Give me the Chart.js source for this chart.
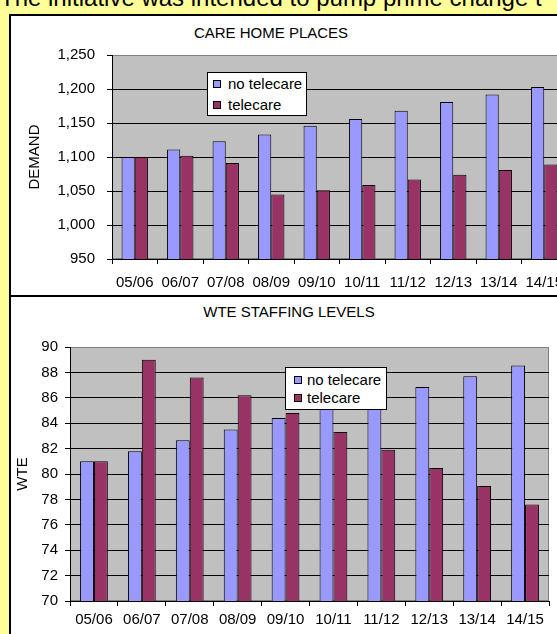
<!DOCTYPE html>
<html>
<head>
<meta charset="utf-8">
<script src="https://cdn.jsdelivr.net/npm/chart.js@4"></script>
<style>
  html, body { margin: 0; padding: 0; }
  body {
    width: 557px; height: 634px; overflow: hidden; position: relative;
    background: #FFFF99;
    font-family: 'Liberation Sans', Arial, sans-serif;
    color: #000;
  }
  .intro { position: absolute; left: 0; top: -14px; font-size: 24px; line-height: 24px; white-space: nowrap; }
  .panel { position: absolute; left: 9px; box-sizing: border-box; border: 2px solid #000; background: #fff; }
  canvas { position: absolute; }
  .title { position: absolute; font-size: 15px; line-height: 15px; white-space: nowrap; transform: translateX(-50%); }
  .legend { position: absolute; box-sizing: border-box; border: 1px solid #000; background: #fff; }
  .legend .mk { position: absolute; width: 8px; height: 8px; box-sizing: border-box; border: 1px solid #000; }
  .legend .tx { position: absolute; font-size: 15px; line-height: 15px; white-space: nowrap; }
</style>
</head>
<body>
<div class="intro">The initiative was intended to pump prime change t</div>

<div class="panel" style="top:14px; width:620px; height:283px;"></div>
<div class="panel" style="top:295px; width:620px; height:400px;"></div>

<div class="title" style="left:271px; top:25px;">CARE HOME PLACES</div>
<div class="title" style="left:289px; top:304px;">WTE STAFFING LEVELS</div>

<canvas id="careChart" width="580" height="278" style="left:11px; top:16px;"></canvas>
<canvas id="wteChart" width="560" height="337" style="left:11px; top:297px;"></canvas>

<div class="legend" id="legend1" style="left:207px; top:72px; width:100px; height:44px;"></div>
<div class="legend" id="legend2" style="left:285px; top:367px; width:102px; height:43px;"></div>

<script>
// data
const years = ['05/06', '06/07', '07/08', '08/09', '09/10', '10/11', '11/12', '12/13', '13/14', '14/15'];
const seriesNames = ['no telecare', 'telecare'];
const seriesColors = ['#9999FF', '#993366'];

const careNoTelecare = [1100, 1111, 1123, 1133, 1146, 1156, 1168, 1181, 1192, 1203];
const careTelecare   = [1100, 1102, 1091, 1045, 1051, 1059, 1067, 1074, 1081, 1089];

const wteNoTelecare = [81, 81.8, 82.65, 83.5, 84.4, 85.25, 86.05, 86.85, 87.7, 88.55];
const wteTelecare   = [81, 89.0, 87.6, 86.2, 84.8, 83.3, 81.9, 80.47, 79.05, 77.6];

const careAxis = { min: 950, max: 1250, step: 50 };
const wteAxis = { min: 70, max: 90, step: 2 };

Chart.defaults.font.family = "'Liberation Sans', Arial, sans-serif";
Chart.defaults.font.size = 15;
Chart.defaults.color = '#000';

// grey plot area like the old excel charts
const plotBg = {
  id: 'plotBg',
  beforeDraw(chart) {
    const {ctx, chartArea: {left, top, width, height}} = chart;
    ctx.save();
    ctx.fillStyle = '#C0C0C0';
    ctx.fillRect(left, top, width, height);
    ctx.strokeStyle = '#808080';
    ctx.lineWidth = 1;
    ctx.strokeRect(left + 0.5, top + 0.5, width - 1, height - 1);
    ctx.restore();
  }
};

function barChart(id, a, b, axis, yTitle, o) {
  return new Chart(document.getElementById(id), {
    type: 'bar',
    data: {
      labels: years,
      datasets: [a, b].map((d, i) => ({
        label: seriesNames[i],
        data: d,
        backgroundColor: seriesColors[i],
        borderColor: '#000',
        borderWidth: 1,
        categoryPercentage: 0.58,
        barPercentage: 1
      }))
    },
    options: {
      responsive: false,
      animation: false,
      devicePixelRatio: 1,
      layout: { padding: { top: o.top, right: o.right, left: 0, bottom: 0 } },
      plugins: { legend: { display: false }, tooltip: { enabled: false } },
      scales: {
        x: {
          grid: { drawOnChartArea: false, drawTicks: true, tickLength: 5, color: '#000', offset: true },
          border: { color: '#000', width: 1 },
          ticks: { padding: o.xPad, maxRotation: 0, autoSkip: false },
          afterFit(s) { s.height = o.xH; }
        },
        y: {
          min: axis.min,
          max: axis.max,
          grid: {
            color: c => c.tick && c.tick.value === axis.max ? '#808080' : '#000',
            tickColor: '#000',
            tickLength: 5
          },
          border: { color: '#000', width: 1 },
          ticks: { stepSize: axis.step, padding: o.yPad },
          title: { display: true, text: yTitle, padding: { top: o.titlePad, bottom: 0 } },
          afterFit(s) { s.width = o.yW; }
        }
      }
    },
    plugins: [plotBg]
  });
}

barChart('careChart', careNoTelecare, careTelecare, careAxis, 'DEMAND',
  { top: 39, right: 24, xH: 35, yW: 101, xPad: 10, yPad: 12, titlePad: 15 });
barChart('wteChart', wteNoTelecare, wteTelecare, wteAxis, 'WTE',
  { top: 50, right: 22, xH: 33, yW: 59, xPad: 5, yPad: 7, titlePad: 3 });

// legend boxes
function legend(id, mx, tx, rows) {
  const box = document.getElementById(id);
  seriesNames.forEach((name, i) => {
    const mk = document.createElement('div');
    mk.className = 'mk';
    mk.style.left = mx + 'px';
    mk.style.top = rows[i] + 'px';
    mk.style.background = seriesColors[i];
    box.appendChild(mk);
    const t = document.createElement('div');
    t.className = 'tx';
    t.style.left = tx + 'px';
    t.style.top = (rows[i] + 8 - 12) + 'px';
    t.textContent = name;
    box.appendChild(t);
  });
}
legend('legend1', 5, 20, [7, 28]);
legend('legend2', 8, 21, [8, 26]);
</script>
</body>
</html>
